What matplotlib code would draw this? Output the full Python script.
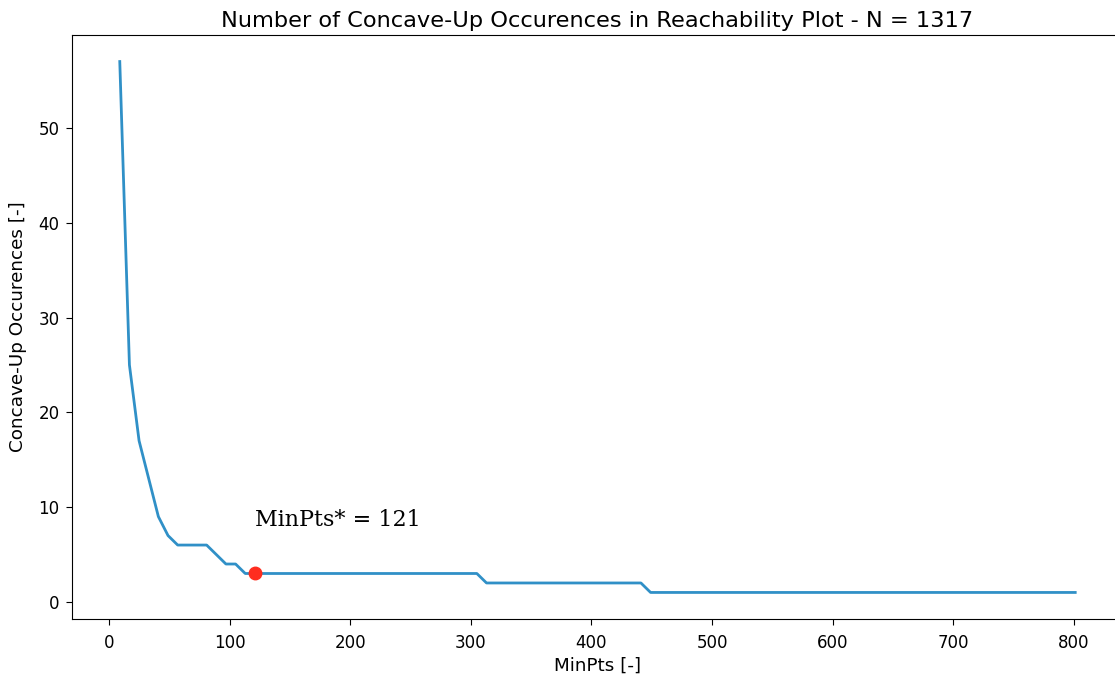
import matplotlib
matplotlib.use("Agg")
from matplotlib import pyplot as plt

# vertices of the concave-up count curve (MinPts sampled in steps of 8)
min_pts = [9, 17, 25, 33, 41, 49, 57, 81, 89, 97, 105, 113, 305, 313, 441, 449, 801]
occurrences = [57, 25, 17, 13, 9, 7, 6, 6, 5, 4, 4, 3, 3, 2, 2, 1, 1]

best_min_pts = 121
best_occurrences = 3
n_points = 1317

fig = plt.figure(figsize=(11.15, 6.81), dpi=100)
ax = fig.add_axes([72 / 1115, 1 - 619 / 681, 1051 / 1115, 584 / 681])

ax.plot(min_pts, occurrences, color="#3090c7", linewidth=2)
ax.plot(best_min_pts, best_occurrences, "o", color="#ff2d1f", markersize=9)
ax.text(best_min_pts, best_occurrences + 5, "MinPts* = %d" % best_min_pts,
        family="DejaVu Serif", fontsize=16)

ax.set_title("Number of Concave-Up Occurences in Reachability Plot - N = %d" % n_points,
             fontsize=16.2)
ax.set_xlabel("MinPts [-]", fontsize=13.2)
ax.set_ylabel("Concave-Up Occurences [-]", fontsize=13.2, labelpad=8.5)
ax.tick_params(labelsize=12, length=4.5)
ax.tick_params(axis="x", pad=6)
ax.tick_params(axis="y", pad=4.5)

fig.savefig("out.png", dpi=100)
